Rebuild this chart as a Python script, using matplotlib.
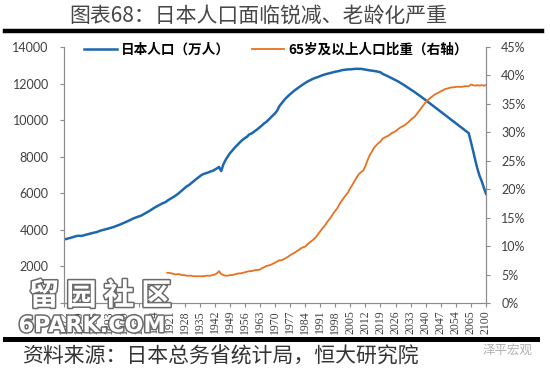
import numpy as np
import matplotlib
matplotlib.use('Agg')
from matplotlib import pyplot as plt
from matplotlib import patheffects as pe
from matplotlib.ticker import FuncFormatter

# categories: annual 1872-2060, then 5-year steps to 2100
years = list(range(1872, 2061)) + [2065, 2070, 2075, 2080, 2085, 2090, 2095, 2100]

# total population, 10k persons (one value per category)
population = [
    3481, 3500, 3531, 3560, 3596, 3635, 3667, 3677, 3665, 3697,   # 1872-1881
    3726, 3757, 3796, 3831, 3851, 3870, 3913, 3962, 3990, 4025,   # 1882-1891
    4051, 4086, 4117, 4156, 4199, 4240, 4289, 4340, 4385, 4436,   # 1892-1901
    4496, 4554, 4614, 4662, 4704, 4742, 4789, 4855, 4918, 4984,   # 1902-1911
    5058, 5136, 5212, 5275, 5338, 5399, 5467, 5503, 5596, 5666,   # 1912-1921
    5739, 5812, 5888, 5974, 6074, 6174, 6276, 6379, 6445, 6545,   # 1922-1931
    6643, 6738, 6831, 6925, 7011, 7063, 7101, 7138, 7193, 7222,   # 1932-1941
    7288, 7359, 7443, 7215, 7575, 7810, 8000, 8177, 8320, 8454,   # 1942-1951
    8581, 8698, 8824, 8928, 9017, 9093, 9218, 9264, 9342, 9429,   # 1952-1961
    9518, 9616, 9718, 9828, 9904, 10020, 10133, 10254, 10372, 10515,  # 1962-1971
    10760, 10910, 11057, 11194, 11309, 11417, 11519, 11616, 11706, 11790,  # 1972-1981
    11873, 11954, 12031, 12105, 12166, 12224, 12278, 12325, 12361, 12410,  # 1982-1991
    12457, 12494, 12527, 12557, 12586, 12616, 12649, 12669, 12693, 12732,  # 1992-2001
    12749, 12769, 12779, 12777, 12790, 12803, 12808, 12803, 12806, 12783,  # 2002-2011
    12759, 12741, 12724, 12709, 12693, 12671, 12644, 12617, 12532, 12480,  # 2012-2021
    12424, 12366, 12311, 12254, 12192, 12129, 12058, 11986, 11913, 11836,  # 2022-2031
    11758, 11681, 11602, 11522, 11440, 11355, 11269, 11181, 11092, 11002,  # 2032-2041
    10912, 10822, 10732, 10642, 10552, 10462, 10372, 10282, 10192, 10102,  # 2042-2051
    10013, 9923, 9834, 9744, 9652, 9561, 9469, 9377, 9284,               # 2052-2060
    8808, 8323, 7817, 7347, 6954, 6668, 6304, 5972,                      # 2065-2100
]

# share of population aged 65+, % (starts 1920)
aged_start = 1920
aged_share = [
    5.3, 5.3, 5.2, 5.1, 5.0, 5.1, 5.0, 4.9, 4.9, 4.8,   # 1920-1929
    4.8, 4.8, 4.7, 4.7, 4.7, 4.7, 4.7, 4.7, 4.8, 4.8,   # 1930-1939
    4.8, 4.9, 5.0, 5.2, 5.6, 5.1, 4.9, 4.8, 4.8, 4.9,   # 1940-1949
    4.9, 5.0, 5.1, 5.2, 5.2, 5.3, 5.4, 5.5, 5.6, 5.6,   # 1950-1959
    5.7, 5.8, 5.8, 5.9, 6.1, 6.3, 6.5, 6.6, 6.7, 6.9,   # 1960-1969
    7.1, 7.3, 7.5, 7.5, 7.7, 7.9, 8.1, 8.4, 8.6, 8.8,   # 1970-1979
    9.1, 9.3, 9.6, 9.8, 9.9, 10.3, 10.6, 10.9, 11.2, 11.6,   # 1980-1989
    12.1, 12.6, 13.1, 13.5, 14.1, 14.6, 15.1, 15.7, 16.2, 16.7,  # 1990-1999
    17.4, 18.0, 18.5, 19.0, 19.5, 20.2, 20.8, 21.5, 22.1, 22.7,  # 2000-2009
    23.0, 23.3, 24.1, 25.1, 26.0, 26.6, 27.3, 27.7, 28.1, 28.4,  # 2010-2019
    28.9, 29.1, 29.3, 29.5, 29.8, 30.0, 30.2, 30.5, 30.8, 31.0,  # 2020-2029
    31.2, 31.5, 31.8, 32.2, 32.5, 32.8, 33.3, 33.8, 34.3, 34.8,  # 2030-2039
    35.3, 35.7, 36.0, 36.3, 36.6, 36.8, 37.0, 37.2, 37.4, 37.6,  # 2040-2049
    37.7, 37.8, 37.9, 37.9, 38.0, 38.0, 38.0, 38.0, 38.1, 38.1,  # 2050-2059
    38.1,                                                      # 2060
    38.4, 38.3, 38.2, 38.3, 38.2, 38.3, 38.2, 38.3,            # 2065-2100
]

pop_ticks = [0, 2000, 4000, 6000, 8000, 10000, 12000, 14000]
share_ticks = [0, 5, 10, 15, 20, 25, 30, 35, 40, 45]

blue = '#1c67ae'
orange = '#e8711f'
axis_gray = '#8c8c8c'
cjk = ['Noto Sans CJK SC', 'DejaVu Sans']

fig = plt.figure(figsize=(5.5, 3.72), dpi=100, facecolor='white')
ax = fig.add_axes([64 / 550, 1 - 303 / 372, 422 / 550, 256 / 372])
ax2 = ax.twinx()

x = np.arange(len(years))
x_aged = x[years.index(aged_start):]

ax.plot(x, population, color=blue, lw=1.8, label='日本人口（万人）', zorder=3)
ax2.plot(x_aged, aged_share, color=orange, lw=1.3, label='65岁及以上人口比重（右轴）', zorder=2)

ax.set_xlim(0, len(years) - 1)
ax.set_ylim(0, 14000)
ax2.set_ylim(0, 45)
ax.set_yticks(pop_ticks)
ax2.set_yticks(share_ticks)
ax2.yaxis.set_major_formatter(FuncFormatter(lambda v, _: f'{v:.0f}%'))

tick_idx = x[::7]
ax.set_xticks(tick_idx)
ax.set_xticklabels([str(years[i]) for i in tick_idx], rotation=90,
                   fontfamily='Liberation Serif', fontsize=8.5, color='#404040')

for a in (ax, ax2):
    a.spines['top'].set_visible(False)
    for side in ('left', 'right', 'bottom'):
        a.spines[side].set_color(axis_gray)
        a.spines[side].set_linewidth(0.8)
    a.tick_params(axis='both', colors=axis_gray, length=3, width=0.8)

for lab in ax.get_yticklabels() + ax2.get_yticklabels():
    lab.set_fontfamily('Lato')
    lab.set_fontsize(9)
    lab.set_color('#404040')
for lab in ax.get_xticklabels():
    lab.set_color('#404040')
ax.tick_params(axis='y', pad=8)
ax2.tick_params(axis='y', pad=8)
ax.tick_params(axis='x', pad=2)

# legend across the top of the plot area
h1, l1 = ax.get_legend_handles_labels()
h2, l2 = ax2.get_legend_handles_labels()
fig.legend(h1 + h2, l1 + l2, ncol=2, frameon=False,
           loc='center', bbox_to_anchor=(276 / 550, 1 - 50 / 372),
           prop={'family': cjk, 'size': 9.8, 'weight': 'bold'},
           handlelength=2.4, handletextpad=0.3, columnspacing=1.6)

# title and the two heavy rules
fig.text(258 / 550, 1 - 16 / 372, '图表68：日本人口面临锐减、老龄化严重',
         ha='center', va='center', fontsize=15, color='#474747', fontfamily=cjk)
fig.add_artist(plt.Line2D([5 / 550, 542 / 550], [1 - 31 / 372] * 2,
                          color='black', lw=3.2, transform=fig.transFigure))
fig.add_artist(plt.Line2D([5 / 550, 537 / 550], [1 - 339 / 372] * 2,
                          color='black', lw=3.6, transform=fig.transFigure))

# source line
fig.text(22 / 550, 1 - 357 / 372, '资料来源：日本总务省统计局，恒大研究院',
         ha='left', va='center', fontsize=15, color='#333333', fontfamily=cjk,
         style='italic')
fig.text(508 / 550, 1 - 350 / 372, '泽平宏观', ha='center', va='center',
         fontsize=9, color='#b0b0b0', fontfamily=cjk)

# site watermark
outline = [pe.withStroke(linewidth=2.2, foreground='#6a6a6a')]
fig.text(100 / 550, 1 - 296 / 372, '留 园 社 区', ha='center', va='center',
         fontsize=22, color='white', fontfamily=cjk, fontweight='bold',
         path_effects=outline)
fig.text(92 / 550, 1 - 326 / 372, '6PARK.COM', ha='center', va='center',
         fontsize=16, color='white', fontfamily='DejaVu Sans', fontweight='bold',
         path_effects=outline)

plt.savefig('out.png', dpi=100, facecolor='white')
